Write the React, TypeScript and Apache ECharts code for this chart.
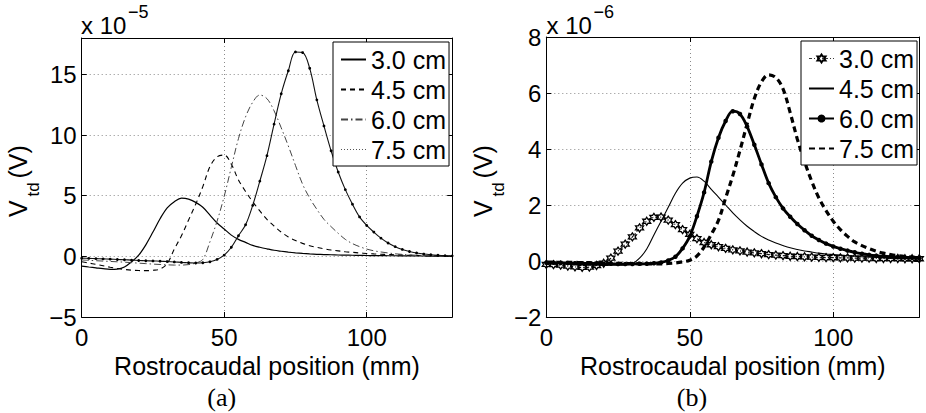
import React, { useEffect, useRef } from 'react';
import * as echarts from 'echarts';

// Rostrocaudal position (mm) of the sampled points
const positions = [0, 2.5, 5, 7.5, 10, 12.5, 15, 17.5, 20, 22.5, 25, 27.5, 30, 32.5, 35, 37.5, 40, 42.5, 45, 47.5, 50, 52.5, 55, 57.5, 60, 62.5, 65, 67.5, 70, 72.5, 75, 77.5, 80, 82.5, 85, 87.5, 90, 92.5, 95, 97.5, 100, 102.5, 105, 107.5, 110, 112.5, 115, 117.5, 120, 122.5, 125, 127.5, 130];

// (a) V_td in units of 1e-5 V
const a30 = [-0.80, -0.88, -0.95, -1.02, -1.07, -1.05, -0.88, -0.45, 0.10, 0.95, 2.00, 3.10, 4.00, 4.50, 4.80, 4.72, 4.45, 4.05, 3.40, 2.75, 2.25, 1.75, 1.40, 1.15, 0.90, 0.75, 0.62, 0.50, 0.42, 0.35, 0.29, 0.24, 0.20, 0.17, 0.15, 0.13, 0.11, 0.10, 0.09, 0.08, 0.07, 0.06, 0.06, 0.05, 0.05, 0.04, 0.04, 0.03, 0.03, 0.02, 0.02, 0.01, 0.01];
const a45 = [-0.45, -0.55, -0.66, -0.78, -0.90, -1.00, -1.08, -1.14, -1.17, -1.18, -1.15, -1.05, -0.60, 0.60, 1.70, 3.00, 4.30, 5.75, 7.40, 8.20, 8.35, 7.60, 6.30, 5.35, 4.50, 3.75, 3.05, 2.50, 2.00, 1.60, 1.30, 1.07, 0.88, 0.74, 0.62, 0.52, 0.45, 0.38, 0.33, 0.28, 0.24, 0.20, 0.17, 0.15, 0.13, 0.11, 0.09, 0.08, 0.06, 0.05, 0.04, 0.03, 0.03];
const a60 = [-0.30, -0.33, -0.36, -0.39, -0.42, -0.45, -0.48, -0.52, -0.56, -0.60, -0.64, -0.67, -0.70, -0.72, -0.72, -0.68, -0.55, -0.25, 1.20, 2.90, 4.95, 7.35, 9.70, 11.50, 12.70, 13.30, 13.00, 12.00, 10.60, 9.10, 7.50, 5.95, 4.80, 3.88, 3.05, 2.45, 1.90, 1.40, 1.05, 0.80, 0.60, 0.46, 0.36, 0.28, 0.21, 0.16, 0.12, 0.09, 0.07, 0.05, 0.04, 0.03, 0.02];
const a75 = [-0.15, -0.17, -0.19, -0.21, -0.23, -0.26, -0.28, -0.31, -0.34, -0.36, -0.38, -0.40, -0.43, -0.46, -0.50, -0.53, -0.55, -0.53, -0.45, -0.25, 0.10, 0.75, 1.70, 2.60, 4.20, 6.20, 8.30, 10.90, 13.40, 15.30, 16.85, 16.80, 15.50, 12.90, 10.75, 8.70, 6.95, 5.50, 4.30, 3.25, 2.55, 2.00, 1.50, 1.10, 0.80, 0.57, 0.40, 0.28, 0.19, 0.13, 0.09, 0.06, 0.04];

// (b) V_td in units of 1e-6 V
const b30 = [-0.12, -0.13, -0.15, -0.18, -0.21, -0.23, -0.22, -0.16, -0.08, 0.10, 0.35, 0.60, 0.86, 1.18, 1.42, 1.56, 1.57, 1.46, 1.30, 1.12, 0.95, 0.80, 0.66, 0.58, 0.51, 0.45, 0.40, 0.36, 0.32, 0.29, 0.26, 0.23, 0.21, 0.19, 0.17, 0.16, 0.15, 0.14, 0.13, 0.12, 0.12, 0.11, 0.11, 0.10, 0.10, 0.10, 0.09, 0.09, 0.09, 0.09, 0.08, 0.08, 0.08];
const b45 = [-0.08, -0.08, -0.09, -0.10, -0.11, -0.12, -0.13, -0.14, -0.15, -0.15, -0.15, -0.14, -0.10, 0.10, 0.43, 0.93, 1.42, 1.92, 2.42, 2.78, 2.96, 3.00, 2.85, 2.56, 2.28, 2.00, 1.72, 1.47, 1.24, 1.05, 0.88, 0.75, 0.64, 0.55, 0.47, 0.41, 0.36, 0.32, 0.28, 0.25, 0.23, 0.21, 0.19, 0.17, 0.15, 0.14, 0.13, 0.12, 0.11, 0.10, 0.09, 0.09, 0.08];
const b60 = [-0.06, -0.06, -0.07, -0.07, -0.08, -0.08, -0.09, -0.09, -0.10, -0.10, -0.11, -0.11, -0.11, -0.10, -0.10, -0.08, -0.05, 0.02, 0.15, 0.45, 0.88, 1.60, 2.45, 3.55, 4.40, 5.00, 5.35, 5.25, 4.80, 4.15, 3.45, 2.78, 2.28, 1.88, 1.58, 1.32, 1.10, 0.90, 0.75, 0.62, 0.52, 0.44, 0.37, 0.31, 0.26, 0.22, 0.19, 0.17, 0.15, 0.13, 0.12, 0.11, 0.10];
const b75 = [-0.04, -0.04, -0.05, -0.05, -0.05, -0.06, -0.06, -0.07, -0.07, -0.08, -0.08, -0.09, -0.09, -0.10, -0.10, -0.10, -0.10, -0.09, -0.07, -0.03, 0.03, 0.18, 0.50, 0.95, 1.45, 2.25, 3.05, 3.95, 4.90, 5.80, 6.40, 6.65, 6.55, 6.15, 5.30, 4.35, 3.55, 2.85, 2.25, 1.80, 1.42, 1.12, 0.88, 0.68, 0.55, 0.44, 0.35, 0.28, 0.23, 0.19, 0.16, 0.14, 0.12];

const xTicks = [0, 50, 100];
const leftYTicks = [-5, 0, 5, 10, 15];
const rightYTicks = [-2, 0, 2, 4, 6, 8];
const legendNames = ['3.0 cm', '4.5 cm', '6.0 cm', '7.5 cm'];

const FONT = '"Liberation Sans", Arial, Helvetica, sans-serif';
const SERIF = '"Liberation Serif", "Times New Roman", serif';
const STAR = 'path://M0,-10L2.9,-5L8.66,-5L5.8,0L8.66,5L2.9,5L0,10L-2.9,5L-8.66,5L-5.8,0L-8.66,-5L-2.9,-5Z';
const HIDE = { itemStyle: { opacity: 0 } };

const pair = (ys: number[]) => positions.map((x, i) => [x, ys[i]]);
const fmt = (ticks: number[]) => (v: number) =>
  ticks.includes(v) ? (v < 0 ? '\u2212' + Math.abs(v) : String(v)) : '';

function mainX(grid: number) {
  return {
    type: 'value', gridIndex: grid, position: 'bottom', min: 0, max: 130, interval: 50,
    axisLine: { show: true, onZero: false, lineStyle: { color: '#000', width: 1 } },
    axisTick: { show: true, inside: true, length: 5, lineStyle: { color: '#000' } },
    axisLabel: { show: true, margin: 8, fontSize: 24, fontFamily: FONT, color: '#000', formatter: fmt(xTicks) },
    splitLine: { show: true, lineStyle: { type: [1, 3], color: '#8a8a8a', width: 1 } },
    name: 'Rostrocaudal position (mm)', nameLocation: 'middle', nameGap: 30,
    nameTextStyle: { fontSize: 25, fontFamily: FONT, color: '#000' },
  };
}
function topX(grid: number) {
  return {
    type: 'value', gridIndex: grid, position: 'top', min: 0, max: 130, interval: 50,
    axisLine: { show: true, onZero: false, lineStyle: { color: '#000', width: 1 } },
    axisTick: { show: true, inside: true, length: 5, lineStyle: { color: '#000' } },
    axisLabel: { show: false }, splitLine: { show: false },
  };
}
function mainY(grid: number, min: number, max: number, interval: number, ticks: number[]) {
  return {
    type: 'value', gridIndex: grid, position: 'left', min, max, interval,
    axisLine: { show: true, onZero: false, lineStyle: { color: '#000', width: 1 } },
    axisTick: { show: true, inside: true, length: 5, lineStyle: { color: '#000' } },
    axisLabel: { show: true, margin: 5, fontSize: 24, fontFamily: FONT, color: '#000', formatter: fmt(ticks) },
    splitLine: { show: true, lineStyle: { type: [1, 3], color: '#8a8a8a', width: 1 } },
  };
}
function rightY(grid: number, min: number, max: number, interval: number) {
  return {
    type: 'value', gridIndex: grid, position: 'right', min, max, interval,
    axisLine: { show: true, onZero: false, lineStyle: { color: '#000', width: 1 } },
    axisTick: { show: true, inside: true, length: 5, lineStyle: { color: '#000' } },
    axisLabel: { show: false }, splitLine: { show: false },
  };
}

function legendBlock(prefix: string, left: number, top: number, overrides: Record<string, any>) {
  return {
    orient: 'vertical', left, top, itemWidth: 25, itemHeight: 10, itemGap: 5,
    padding: [5, 3, 4, 7], backgroundColor: '#fff', borderColor: '#000', borderWidth: 1, borderRadius: 0,
    selectedMode: false,
    textStyle: { fontSize: 25, fontFamily: FONT, color: '#000', lineHeight: 25 },
    formatter: (n: string) => n.slice(prefix.length),
    data: legendNames.map((n) => Object.assign({ name: prefix + n }, overrides[n] || {})),
  };
}

function line(name: string, xi: number, ys: number[], extra: Record<string, any>) {
  return Object.assign({
    type: 'line', name, xAxisIndex: xi, yAxisIndex: xi, data: pair(ys), smooth: 0.35,
    symbol: 'none', silent: true, clip: true, color: '#000',
    emphasis: { disabled: true },
  }, extra);
}

function yName(x: number) {
  return [
    { type: 'text', x: x, y: 217, rotation: Math.PI / 2, style: { text: 'V', fontSize: 25, fontFamily: FONT, fill: '#000', textAlign: 'left', textVerticalAlign: 'middle' } },
    { type: 'text', x: x + 15.5, y: 196.5, rotation: Math.PI / 2, style: { text: 'td', fontSize: 17, fontFamily: FONT, fill: '#000', textAlign: 'left', textVerticalAlign: 'middle' } },
    { type: 'text', x: x, y: 178.5, rotation: Math.PI / 2, style: { text: '(V)', fontSize: 25, fontFamily: FONT, fill: '#000', textAlign: 'left', textVerticalAlign: 'middle' } },
  ];
}

export default function App() {
  const ref = useRef<HTMLDivElement>(null);
  useEffect(() => {
    if (!ref.current) return;
    const chart = echarts.init(ref.current, undefined, { renderer: 'svg' });
    const option: any = {
      animation: false,
      backgroundColor: '#fff',
      grid: [
        { left: 81.7, top: 38, width: 370.5, height: 279, containLabel: false },
        { left: 546.3, top: 37, width: 373, height: 280, containLabel: false },
      ],
      xAxis: [mainX(0), topX(0), mainX(1), topX(1)],
      yAxis: [mainY(0, -5, 18, 5, leftYTicks), rightY(0, -5, 18, 5), mainY(1, -2, 8, 2, rightYTicks), rightY(1, -2, 8, 2)],
      legend: [
        legendBlock('a|', 333, 42, {
          '3.0 cm': HIDE,
          '4.5 cm': HIDE,
          '6.0 cm': HIDE,
          '7.5 cm': { itemStyle: { opacity: 0 }, lineStyle: { type: [1, 2], color: '#555', width: 1.2 } },
        }),
        legendBlock('b|', 801, 41, {
          '3.0 cm': { lineStyle: { type: [3, 2, 1, 2], color: '#222', width: 0.9 } },
          '4.5 cm': HIDE,
          '7.5 cm': HIDE,
        }),
      ],
      series: [
        line('a|3.0 cm', 0, a30, { lineStyle: { color: '#000', width: 1.2, type: 'solid' } }),
        line('a|4.5 cm', 0, a45, { lineStyle: { color: '#000', width: 1.1, type: [5, 4] } }),
        line('a|6.0 cm', 0, a60, { lineStyle: { color: '#444', width: 1, type: [7, 3, 1.5, 3] } }),
        line('a|7.5 cm', 0, a75, {
          lineStyle: { color: '#111', width: 1.1, type: 'solid' },
          symbol: 'circle', symbolSize: 2.8, showSymbol: true, showAllSymbol: true,
          itemStyle: { color: '#000' },
        }),
        line('b|3.0 cm', 2, b30, {
          lineStyle: { color: '#111', width: 1.2, type: [3, 2, 1, 2] },
          symbol: STAR, symbolSize: 8, showSymbol: true, showAllSymbol: true,
          itemStyle: { color: 'rgba(255,255,255,0)', borderColor: '#000', borderWidth: 1.3 },
        }),
        line('b|4.5 cm', 2, b45, { lineStyle: { color: '#000', width: 1.1, type: 'solid' } }),
        line('b|6.0 cm', 2, b60, {
          lineStyle: { color: '#000', width: 2.8, type: 'solid' },
          symbol: 'circle', symbolSize: 4.5, showSymbol: true, showAllSymbol: true,
          itemStyle: { color: '#000' },
        }),
        line('b|7.5 cm', 2, b75, { lineStyle: { color: '#000', width: 3.2, type: [6, 4] } }),
      ],
      graphic: [
        { type: 'text', x: 81, y: 25.5, style: { text: 'x 10', fontSize: 24, fontFamily: FONT, fill: '#000', textAlign: 'left', textVerticalAlign: 'middle' } },
        { type: 'text', x: 128, y: 11.5, style: { text: '\u22125', fontSize: 18, fontFamily: FONT, fill: '#000', textAlign: 'left', textVerticalAlign: 'middle' } },
        { type: 'text', x: 546.5, y: 25.5, style: { text: 'x 10', fontSize: 24, fontFamily: FONT, fill: '#000', textAlign: 'left', textVerticalAlign: 'middle' } },
        { type: 'text', x: 593.5, y: 11.5, style: { text: '\u22126', fontSize: 18, fontFamily: FONT, fill: '#000', textAlign: 'left', textVerticalAlign: 'middle' } },
        ...yName(18),
        ...yName(482.6),
        { type: 'text', x: 221.7, y: 397.5, style: { text: '(a)', fontSize: 26, fontFamily: SERIF, fill: '#000', textAlign: 'center', textVerticalAlign: 'middle' } },
        { type: 'text', x: 692, y: 397.5, style: { text: '(b)', fontSize: 26, fontFamily: SERIF, fill: '#000', textAlign: 'center', textVerticalAlign: 'middle' } },
      ],
    };
    chart.setOption(option);
    return () => chart.dispose();
  }, []);
  return (
    <div
      ref={ref}
      style={{ position: 'absolute', left: 0, top: 0, width: 926, height: 413, background: '#fff' }}
    />
  );
}
